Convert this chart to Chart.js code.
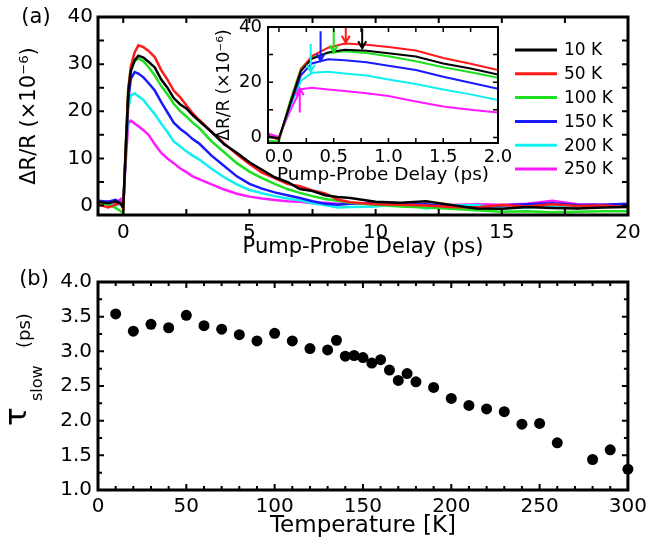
<!DOCTYPE html>
<html>
<head>
<meta charset="utf-8">
<script src="https://cdn.jsdelivr.net/npm/chart.js@4.4.0/dist/chart.umd.min.js"></script>
<style>
  html, body { margin: 0; padding: 0; background: #fff; }
  #wrap { position: relative; width: 652px; height: 544px; overflow: hidden; background: #fff; }
  canvas { position: absolute; }
</style>
</head>
<body>
<div id="wrap">
  <canvas id="main" width="652" height="264" style="left:0;top:0"></canvas>
  <canvas id="inset" width="320" height="180" style="left:205px;top:10px"></canvas>
  <canvas id="tau" width="652" height="294" style="left:0;top:250px"></canvas>
</div>
<script>
// ---- panel (a): transient reflectivity, ΔR/R in units of 1e-6 ----
const delayPs = [-1, -0.6, -0.3, -0.1, 0, 0.1, 0.2, 0.3, 0.45, 0.6, 0.8, 1.0, 1.25, 1.5, 1.75,
  2.0, 2.25, 2.5, 2.75, 3.0, 3.5, 4.0, 4.5, 5.0, 5.5, 6.0, 6.5, 7.0, 7.5, 8.0, 8.5, 9.0,
  10, 11, 12, 13, 14, 15, 16, 17, 18, 19, 20];

const dr10K  = [0.8, 0.5, 0.9, 0.4, -0.3, 12.0, 24.0, 28.5, 30.8, 31.8, 31.4, 30.5, 29.3, 26.8, 25.0,
  22.8, 21.5, 20.6, 19.2, 18.0, 15.6, 13.0, 11.2, 9.2, 7.6, 6.0, 5.0, 3.5, 3.1, 2.2, 1.8, 1.6,
  0.8, 0.6, 0.9, 0.1, -0.6, -0.7, -0.3, -0.5, -0.6, -0.4, -0.3];
const dr50K  = [0.3, -0.4, 0.2, 0.6, -0.8, 12.0, 24.5, 29.5, 32.5, 34.0, 33.6, 32.8, 31.5, 28.8, 26.7,
  24.4, 23.0, 21.3, 19.6, 18.2, 15.7, 13.2, 10.9, 8.8, 7.0, 5.8, 4.6, 4.1, 3.2, 2.6, 1.3, 0.7,
  0.3, 0.2, 0.0, -0.3, -0.4, 0.1, -0.2, 0.3, -0.1, 0.0, -0.3];
const dr100K = [0.6, 0.2, -0.5, -1.2, -1.5, 13.0, 25.0, 29.0, 30.6, 31.2, 30.6, 29.4, 27.6, 25.4, 23.6,
  21.6, 20.1, 18.9, 17.6, 16.5, 13.6, 11.3, 9.0, 7.2, 5.8, 4.6, 3.5, 2.7, 2.0, 1.4, 1.0, 0.6,
  0.2, -0.2, -0.4, -0.7, -1.0, -1.3, -1.2, -1.4, -1.3, -1.2, -1.2];
const dr150K = [1.0, 0.8, 1.2, 0.5, -0.5, 11.5, 22.5, 26.8, 28.3, 28.0, 27.2, 26.0, 24.4, 22.0, 19.8,
  17.6, 16.3, 15.3, 14.1, 13.2, 10.6, 8.4, 6.2, 4.6, 3.6, 2.8, 2.2, 1.6, 0.9, 0.4, 0.2, 0.4,
  0.6, 0.2, 0.3, -0.3, -0.4, 0.0, 0.3, 0.5, 0.1, 0.2, 0.4];
const dr200K = [0.2, 0.5, 0.0, 0.3, -0.6, 11.0, 20.5, 23.4, 23.8, 23.2, 22.4, 21.0, 19.4, 17.4, 15.6,
  13.6, 12.6, 11.5, 10.6, 9.8, 7.8, 6.0, 4.5, 3.3, 2.6, 2.0, 1.5, 1.1, 0.5, 0.1, -0.4, -0.3,
  -0.2, 0.5, -0.6, 0.0, 0.1, -0.6, -0.4, -0.2, -0.5, -0.3, -0.2];
const dr250K = [0.4, 0.9, 0.5, 1.4, 0.2, 9.5, 17.5, 18.0, 17.4, 16.8, 16.0, 15.0, 13.0, 11.2, 10.0,
  9.0, 7.9, 7.1, 6.2, 5.6, 4.5, 3.4, 2.5, 1.9, 1.5, 1.2, 0.9, 0.8, 0.5, 0.6, 0.4, 0.5,
  0.3, 0.4, 0.2, 0.1, 0.3, 0.2, 0.4, 1.0, 0.3, 0.2, 0.1];

const tempLabels = ['10 K', '50 K', '100 K', '150 K', '200 K', '250 K'];
const seriesColors = ['#000000', '#ff1a1a', '#1ee01e', '#1a1aff', '#10f0f0', '#ff1aff'];
const drSeries = [dr10K, dr50K, dr100K, dr150K, dr200K, dr250K];

// peak markers in the inset (ps, from / to in 1e-6)
const arrowDelay = [0.76, 0.61, 0.50, 0.38, 0.29, 0.19];
const arrowTail  = [39.5, 40.4, 39.3, 38.5, 33.8, 9.0];
const arrowTip   = [32.3, 34.3, 30.8, 27.8, 23.8, 17.8];

const mainTicksX = [0, 5, 10, 15, 20];
const mainTicksY = [0, 10, 20, 30, 40];
const insetTicksX = [0, 0.5, 1.0, 1.5, 2.0];
const insetTicksY = [0, 20, 40];

// ---- panel (b): slow relaxation time vs temperature ----
const tempK = [10, 20, 30, 40, 50, 60, 70, 80, 90, 100, 110, 120, 130, 135, 140, 145, 150, 155,
  160, 165, 170, 175, 180, 190, 200, 210, 220, 230, 240, 250, 260, 280, 290, 300];
const tauSlow = [3.54, 3.29, 3.39, 3.34, 3.52, 3.37, 3.32, 3.24, 3.15, 3.26, 3.15, 3.04, 3.02, 3.16,
  2.93, 2.94, 2.91, 2.83, 2.88, 2.73, 2.58, 2.68, 2.56, 2.48, 2.32, 2.22, 2.17, 2.13, 1.95, 1.96,
  1.68, 1.44, 1.58, 1.30];
const tauErr = [0.05, 0.05, 0.06, 0.05, 0.05, 0.05, 0.05, 0.05, 0.05, 0.05, 0.05, 0.05, 0.06, 0.06,
  0.05, 0.05, 0.05, 0.05, 0.05, 0.05, 0.05, 0.05, 0.05, 0.05, 0.05, 0.05, 0.05, 0.05, 0.05, 0.05,
  0.05, 0.06, 0.06, 0.06];
const tauTicksX = [0, 50, 100, 150, 200, 250, 300];
const tauTicksY = [1.0, 1.5, 2.0, 2.5, 3.0, 3.5, 4.0];

Chart.defaults.font.family = "'DejaVu Sans', sans-serif";
Chart.defaults.color = '#000';

// box frame with inward ticks on all four sides
function makeFrame(id, o) {
  return {
    id: id,
    afterDraw(chart) {
      const ctx = chart.ctx;
      const a = chart.chartArea;
      const sx = chart.scales.x, sy = chart.scales.y;
      ctx.save();
      ctx.strokeStyle = '#000000';
      ctx.lineWidth = o.tickWidth;
      ctx.beginPath();
      const xt = (step, len) => {
        for (let k = Math.ceil(sx.min / step - 1e-6); k * step <= sx.max + 1e-6; k++) {
          const p = sx.getPixelForValue(k * step);
          ctx.moveTo(p, a.bottom); ctx.lineTo(p, a.bottom - len);
          ctx.moveTo(p, a.top); ctx.lineTo(p, a.top + len);
        }
      };
      const yt = (step, len) => {
        for (let k = Math.ceil(sy.min / step - 1e-6); k * step <= sy.max + 1e-6; k++) {
          const p = sy.getPixelForValue(k * step);
          ctx.moveTo(a.left, p); ctx.lineTo(a.left + len, p);
          ctx.moveTo(a.right, p); ctx.lineTo(a.right - len, p);
        }
      };
      xt(o.xMinor, o.minorLen); xt(o.xMajor, o.majorLen);
      yt(o.yMinor, o.minorLen); yt(o.yMajor, o.majorLen);
      ctx.stroke();
      ctx.lineWidth = o.width;
      ctx.beginPath();
      ctx.rect(a.left, a.top, a.right - a.left, a.bottom - a.top);
      ctx.stroke();
      ctx.restore();
    }
  };
}

// legend + panel letter for (a)
const mainDecor = {
  id: 'mainDecor',
  afterDraw(chart) {
    const ctx = chart.ctx;
    ctx.save();
    ctx.fillStyle = '#000';
    ctx.font = "21px 'DejaVu Sans'";
    ctx.textAlign = 'center';
    ctx.textBaseline = 'middle';
    ctx.fillText('(a)', 36, 18);
    ctx.font = "17px 'DejaVu Sans'";
    ctx.textAlign = 'left';
    chart.data.datasets.forEach((ds, i) => {
      const y = 50 + i * 23.8;
      ctx.strokeStyle = ds.borderColor;
      ctx.lineWidth = 3;
      ctx.beginPath(); ctx.moveTo(515, y); ctx.lineTo(557, y); ctx.stroke();
      ctx.fillText(ds.label, 564, y + 1);
    });
    ctx.restore();
  }
};

const arrowPlugin = {
  id: 'arrows',
  afterDatasetsDraw(chart) {
    const {ctx} = chart;
    const sx = chart.scales.x, sy = chart.scales.y;
    ctx.save();
    ctx.lineWidth = 2;
    arrowDelay.forEach((t, i) => {
      const x = sx.getPixelForValue(t);
      const y1 = sy.getPixelForValue(arrowTail[i]);
      const y2 = sy.getPixelForValue(arrowTip[i]);
      const dir = y2 > y1 ? 1 : -1;
      ctx.strokeStyle = seriesColors[i];
      ctx.beginPath();
      ctx.moveTo(x, y1); ctx.lineTo(x, y2);
      ctx.moveTo(x - 4, y2 - dir * 7); ctx.lineTo(x, y2); ctx.lineTo(x + 4, y2 - dir * 7);
      ctx.stroke();
    });
    ctx.restore();
  }
};

const tauDecor = {
  id: 'tauDecor',
  afterDatasetsDraw(chart) {
    const {ctx} = chart;
    const sx = chart.scales.x, sy = chart.scales.y;
    ctx.save();
    ctx.strokeStyle = '#000';
    ctx.lineWidth = 2;
    ctx.beginPath();
    tempK.forEach((t, i) => {
      const x = sx.getPixelForValue(t);
      ctx.moveTo(x, sy.getPixelForValue(tauSlow[i] - tauErr[i]));
      ctx.lineTo(x, sy.getPixelForValue(tauSlow[i] + tauErr[i]));
    });
    ctx.stroke();
    ctx.restore();
  },
  afterDraw(chart) {
    const ctx = chart.ctx;
    ctx.save();
    ctx.fillStyle = '#000';
    ctx.font = "21px 'DejaVu Sans'";
    ctx.textAlign = 'center';
    ctx.textBaseline = 'middle';
    ctx.fillText('(b)', 34, 30);
    ctx.textAlign = 'left';
    ctx.textBaseline = 'alphabetic';
    const put = (txt, size, bx, by) => {
      ctx.save();
      ctx.translate(bx, by);
      ctx.rotate(-Math.PI / 2);
      ctx.font = size + "px 'DejaVu Sans'";
      ctx.fillText(txt, 0, 0);
      ctx.restore();
    };
    put('\u03c4', 31, 26, 426 - 250);
    put('slow', 16, 42, 401 - 250);
    put('(ps)', 18, 30, 348 - 250);
    ctx.restore();
  }
};

const fixedTicks = vals => scale => { scale.ticks = vals.map(v => ({value: v})); };
const noGrid = {display: false, drawTicks: false, tickLength: 0};

new Chart(document.getElementById('main'), {
  type: 'line',
  data: {
    datasets: drSeries.map((vals, i) => ({
      label: tempLabels[i],
      data: delayPs.map((d, j) => ({x: d, y: vals[j]})),
      borderColor: seriesColors[i],
      borderWidth: 2.5,
      pointRadius: 0,
      tension: 0
    }))
  },
  options: {
    responsive: false, animation: false, devicePixelRatio: 1,
    layout: {padding: {left: 13, right: 24, top: 17, bottom: 0}},
    plugins: {legend: {display: false}, tooltip: {enabled: false}},
    scales: {
      x: {
        type: 'linear', min: -1, max: 20,
        grid: noGrid, border: {display: false},
        afterBuildTicks: fixedTicks(mainTicksX),
        ticks: {font: {size: 20}, padding: 6, maxRotation: 0, autoSkip: false},
        title: {display: true, text: 'Pump-Probe Delay (ps)', font: {size: 21}, padding: {top: 4, bottom: 4}},
        afterFit: s => { s.height = 49; }
      },
      y: {
        type: 'linear', min: -2, max: 40,
        grid: noGrid, border: {display: false},
        afterBuildTicks: fixedTicks(mainTicksY),
        ticks: {font: {size: 20}, padding: 5},
        title: {display: true, text: '\u0394R/R (\u00d710\u207b\u2076)', font: {size: 21}, padding: {top: 4, bottom: 4}},
        afterFit: s => { s.width = 85; }
      }
    }
  },
  plugins: [makeFrame('frameA', {width: 3, tickWidth: 2, xMajor: 5, xMinor: 2.5, yMajor: 10, yMinor: 5, majorLen: 6, minorLen: 6}), mainDecor]
});

new Chart(document.getElementById('inset'), {
  type: 'line',
  data: {
    datasets: drSeries.map((vals, i) => ({
      label: tempLabels[i],
      data: delayPs.map((d, j) => ({x: d, y: vals[j]})),
      borderColor: seriesColors[i],
      borderWidth: 2,
      pointRadius: 0,
      tension: 0
    }))
  },
  options: {
    responsive: false, animation: false, devicePixelRatio: 1,
    layout: {padding: {left: 5, right: 27, top: 17, bottom: 0}},
    plugins: {legend: {display: false}, tooltip: {enabled: false}},
    scales: {
      x: {
        type: 'linear', min: -0.1, max: 2.0,
        grid: noGrid, border: {display: false},
        afterBuildTicks: fixedTicks(insetTicksX),
        ticks: {font: {size: 18}, padding: 4, maxRotation: 0, autoSkip: false, callback: v => Number(v).toFixed(1)},
        title: {display: true, text: 'Pump-Probe Delay (ps)', font: {size: 18.5}, padding: {top: 4, bottom: 4}},
        afterFit: s => { s.height = 47; }
      },
      y: {
        type: 'linear', min: -2, max: 40,
        grid: noGrid, border: {display: false},
        afterBuildTicks: fixedTicks(insetTicksY),
        ticks: {font: {size: 18}, padding: 6},
        title: {display: true, text: '\u0394R/R (\u00d710\u207b\u2076)', font: {size: 17}, padding: {top: 4, bottom: 4}},
        afterFit: s => { s.width = 58; }
      }
    }
  },
  plugins: [makeFrame('frameI', {width: 2, tickWidth: 1.5, xMajor: 0.5, xMinor: 0.25, yMajor: 20, yMinor: 10, majorLen: 5, minorLen: 5}), arrowPlugin]
});

new Chart(document.getElementById('tau'), {
  type: 'scatter',
  data: {
    datasets: [{
      label: 'tau slow',
      data: tempK.map((t, i) => ({x: t, y: tauSlow[i]})),
      pointRadius: 5.5,
      pointBackgroundColor: '#000',
      pointBorderWidth: 0,
      clip: false
    }]
  },
  options: {
    responsive: false, animation: false, devicePixelRatio: 1,
    layout: {padding: {left: 0, right: 24, top: 32, bottom: 0}},
    plugins: {legend: {display: false}, tooltip: {enabled: false}},
    scales: {
      x: {
        type: 'linear', min: 0, max: 300,
        grid: noGrid, border: {display: false},
        afterBuildTicks: fixedTicks(tauTicksX),
        ticks: {font: {size: 20}, padding: 5, maxRotation: 0, autoSkip: false},
        title: {display: true, text: 'Temperature [K]', font: {size: 23}, padding: {top: 6, bottom: 4}},
        afterFit: s => { s.height = 54; }
      },
      y: {
        type: 'linear', min: 1.0, max: 4.0,
        grid: noGrid, border: {display: false},
        afterBuildTicks: fixedTicks(tauTicksY),
        ticks: {font: {size: 20}, padding: 6, callback: v => Number(v).toFixed(1)},
        afterFit: s => { s.width = 98; }
      }
    }
  },
  plugins: [makeFrame('frameB', {width: 3, tickWidth: 2, xMajor: 50, xMinor: 10, yMajor: 0.5, yMinor: 0.25, majorLen: 6, minorLen: 4}), tauDecor]
});
</script>
</body>
</html>
